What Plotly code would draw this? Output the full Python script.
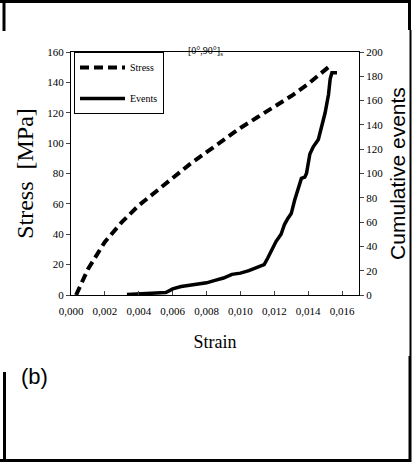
import plotly.graph_objects as go

# ---- data ----
stress_strain = [0.0003, 0.0010, 0.0020, 0.0030, 0.0040, 0.0050, 0.0060, 0.0070,
                 0.0080, 0.0090, 0.0100, 0.0110, 0.0120, 0.0130, 0.0140, 0.0150, 0.0153]
stress_mpa = [0, 17, 35, 48, 59, 68, 77, 86, 94, 102, 110, 117, 124, 131, 139, 148, 151]

events_strain = [0.0033, 0.0040, 0.0050, 0.0056, 0.0060, 0.0065, 0.0070, 0.0075, 0.0080,
                 0.0085, 0.0090, 0.0095, 0.0100, 0.0105, 0.0110, 0.0114, 0.0116, 0.0118,
                 0.0121, 0.0124, 0.0126, 0.0128, 0.0130, 0.0132, 0.0134, 0.0136, 0.0138,
                 0.0139, 0.0141, 0.0143, 0.0146, 0.0148, 0.0150, 0.0152, 0.0153, 0.0154, 0.0157]
events_count = [0.5, 0.8, 1.2, 2, 5, 7, 8, 9, 10, 12, 14, 17, 18, 20, 23, 25, 30, 36,
                44, 50, 58, 63, 67, 78, 88, 96, 97, 100, 116, 122, 128, 138, 150, 165, 178, 183, 183]

x_range = [0, 0.017]
y_range = [0, 160]
y2_range = [0, 200]

W, H = 416, 462
L, R, T, B = 71, 57, 52, 167
PW, PH = W - L - R, H - T - B


def px(x):
    return (x - L) / PW


def py(y):
    return (H - B - y) / PH


serif = "Liberation Serif"
sans = "Liberation Sans"

fig = go.Figure()
fig.add_trace(go.Scatter(x=stress_strain, y=stress_mpa, mode="lines", name="Stress",
                         line=dict(color="black", width=4, dash="9px,5px"),
                         legendgroup="a"))
fig.add_trace(go.Scatter(x=events_strain, y=events_count, mode="lines", name="Events",
                         line=dict(color="black", width=3.5), yaxis="y2",
                         legendgroup="b"))

fig.update_layout(
    width=W, height=H,
    margin=dict(l=L, r=R, t=T, b=B, autoexpand=False),
    paper_bgcolor="white", plot_bgcolor="white",
    separators=", ",
    showlegend=True,
    legend=dict(x=px(74), y=1, xanchor="left", yanchor="top",
                bordercolor="black", borderwidth=1, bgcolor="white",
                font=dict(family=serif, size=10, color="black"),
                traceorder="grouped", tracegroupgap=12, itemwidth=45),
    xaxis=dict(range=x_range, dtick=0.002, tickformat=".3f",
               showgrid=False, zeroline=False, showline=True, linecolor="black",
               linewidth=1, mirror=True, ticks="inside", ticklen=4,
               ticklabelstandoff=6,
               tickfont=dict(family=serif, size=11, color="black"),
               title=dict(text="Strain", font=dict(family=serif, size=18, color="black"),
                          standoff=19)),
    yaxis=dict(range=y_range, dtick=20, showgrid=False, zeroline=False,
               showline=True, linecolor="black", linewidth=1,
               ticks="outside", ticklen=4,
               tickfont=dict(family=serif, size=11, color="black"),
               title=dict(text="Stress  [MPa]", font=dict(family=serif, size=24, color="black"),
                          standoff=6)),
    yaxis2=dict(range=y2_range, dtick=20, overlaying="y", side="right",
                showgrid=False, zeroline=False, showline=True, linecolor="black",
                linewidth=1, ticks="outside", ticklen=4,
                tickfont=dict(family=serif, size=11, color="black"),
                title=dict(text="Cumulative events",
                           font=dict(family=sans, size=21, color="black"), standoff=8)),
)

fig.add_annotation(text="[0°,90°]<sub>s</sub>", xref="paper", yref="paper",
                   x=px(205), y=py(43), showarrow=False,
                   font=dict(family=serif, size=10, color="black"))
fig.add_annotation(text="(b)", xref="paper", yref="paper", x=px(34), y=py(376),
                   xanchor="center", yanchor="middle",
                   showarrow=False, font=dict(family=sans, size=22, color="black"))

# outer page frame lines
frame = [
    (0, 1.5, 410, 1.5, 3),
    (4, 0, 4, 31, 3),
    (409.5, 0, 409.5, 30, 3),
    (410.5, 30, 410.5, 356, 2),
    (410, 356, 410, 462, 3),
    (4.5, 372, 4.5, 462, 3),
    (0, 460.5, 411, 460.5, 3),
]
for x0, y0, x1, y1, w in frame:
    fig.add_shape(type="line", xref="paper", yref="paper",
                  x0=px(x0), y0=py(y0), x1=px(x1), y1=py(y1),
                  line=dict(color="black", width=w))

fig.write_html("out.html", config={"displayModeBar": False},
               post_script="document.body.style.margin='0';document.body.style.overflow='hidden';")
